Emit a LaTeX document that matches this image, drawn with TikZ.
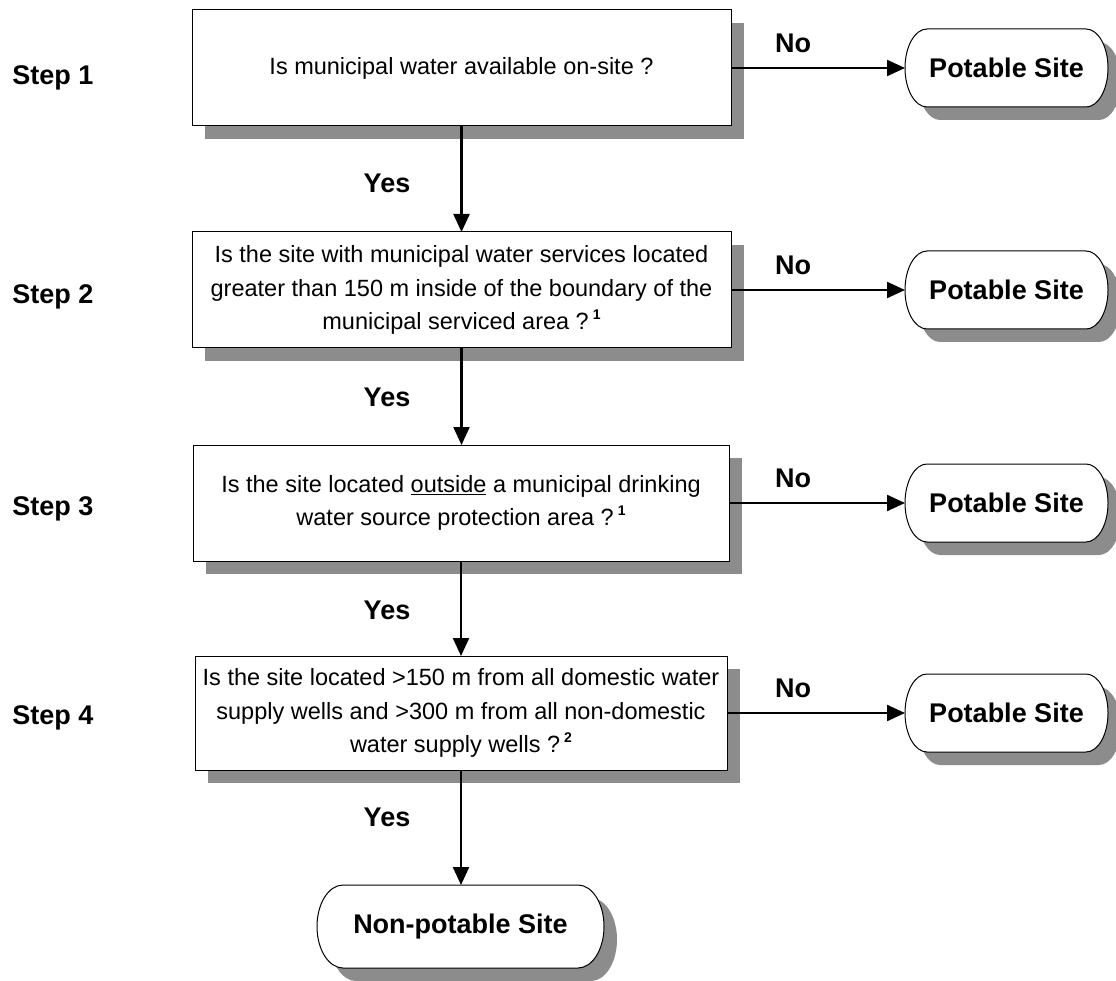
\documentclass[tikz,border=0pt]{standalone}
\usepackage{fontspec}
\setmainfont{Liberation Sans}
\usetikzlibrary{arrows.meta,backgrounds,calc}
\definecolor{shadowgray}{RGB}{140,140,140}
\newcommand\pillshape[3]{($(#1.north west)+(#2,0pt)$) -- ($(#1.north east)+(-#2,0pt)$) arc[start angle=90,end angle=-90,x radius=#2,y radius=#3] -- ($(#1.south west)+(#2,0pt)$) arc[start angle=270,end angle=90,x radius=#2,y radius=#3] -- cycle}
\newcommand\supnum[1]{\raisebox{0.45em}{\fontsize{14}{14}\selectfont\bfseries #1}}
\tikzset{
  qbox/.style={draw=black, line width=1pt, fill=white, inner sep=0pt, outer sep=0pt, align=center,
    font=\fontsize{23.5}{33.5}\selectfont},
  pill/.style={draw=none, inner sep=0pt, outer sep=0pt, font=\fontsize{27}{30}\selectfont\bfseries},
  lbl/.style={inner sep=0pt, font=\fontsize{27}{30}\selectfont\bfseries},
  conn/.style={line width=2.3pt, -{Triangle[length=18pt,width=16pt]}},
  shadowfill/.style={fill=shadowgray}
}
\begin{document}
\begin{tikzpicture}[x=1pt,y=-1pt]
\useasboundingbox (0,0) rectangle (1116,981);

% question boxes
\node[qbox, minimum width=539pt, minimum height=116pt] (b1) at (461.5,68) {Is municipal water available on-site ?};
\node[qbox, minimum width=539pt, minimum height=116pt] (b2) at (461.5,290) {Is the site with municipal water services located\\greater than 150 m inside of the boundary of the\\municipal serviced area ?\,\supnum{1}};
\node[qbox, minimum width=536pt, minimum height=116pt] (b3) at (461,503) {Is the site located \underline{outside} a municipal drinking\\water source protection area ?\,\supnum{1}};
\node[qbox, minimum width=532pt, minimum height=114pt] (b4) at (461,713) {Is the site located >150 m from all domestic water\\supply wells and >300 m from all non-domestic\\water supply wells ?\,\supnum{2}};

% terminal nodes
\node[pill, minimum width=203pt, minimum height=78pt] (p1) at (1006.5,68) {Potable Site};
\node[pill, minimum width=203pt, minimum height=78pt] (p2) at (1006.5,290) {Potable Site};
\node[pill, minimum width=203pt, minimum height=78pt] (p3) at (1006.5,503) {Potable Site};
\node[pill, minimum width=203pt, minimum height=78pt] (p4) at (1006.5,713) {Potable Site};
\node[pill, minimum width=287pt, minimum height=83pt] (np) at (460.5,926.5) {Non-potable Site};

% shadows and pill outlines
\begin{scope}[on background layer]
  \foreach \n in {b1,b2,b3,b4}
    \fill[shadowfill] ($(\n.south west)+(13pt,-13pt)$) rectangle ($(\n.north east)+(13pt,-13pt)$);
  \foreach \n in {p1,p2,p3,p4} {
    \fill[shadowfill, transform canvas={shift={(13pt,-13pt)}}] \pillshape{\n}{22pt}{39pt};
    \draw[fill=white, line width=1pt] \pillshape{\n}{22pt}{39pt};
  }
  \fill[shadowfill, transform canvas={shift={(13pt,-13pt)}}] \pillshape{np}{26pt}{41.5pt};
  \draw[fill=white, line width=1pt] \pillshape{np}{26pt}{41.5pt};
\end{scope}

% step labels
\node[lbl] (s1) at (53,78) {Step 1};
\node[lbl] (s2) at (53,297) {Step 2};
\node[lbl] (s3) at (53,509) {Step 3};
\node[lbl] (s4) at (53,718) {Step 4};

% connectors
\draw[conn] (b1.east) -- (p1.west);
\draw[conn] (b2.east) -- (p2.west);
\draw[conn] (b3.east) -- (p3.west);
\draw[conn] (b4.east) -- (p4.west);
\draw[conn] (b1.south) -- (b1.south |- b2.north);
\draw[conn] (b2.south) -- (b2.south |- b3.north);
\draw[conn] (b3.south) -- (b3.south |- b4.north);
\draw[conn] (b4.south) -- (b4.south |- np.north);

% branch labels
\node[lbl] (n1) at (793,43) {No};
\node[lbl] (n2) at (793,265) {No};
\node[lbl] (n3) at (793,478) {No};
\node[lbl] (n4) at (793,688) {No};
\node[lbl] (y1) at (387,183) {Yes};
\node[lbl] (y2) at (387,397) {Yes};
\node[lbl] (y3) at (387,610) {Yes};
\node[lbl] (y4) at (387,817) {Yes};
\end{tikzpicture}
\end{document}
